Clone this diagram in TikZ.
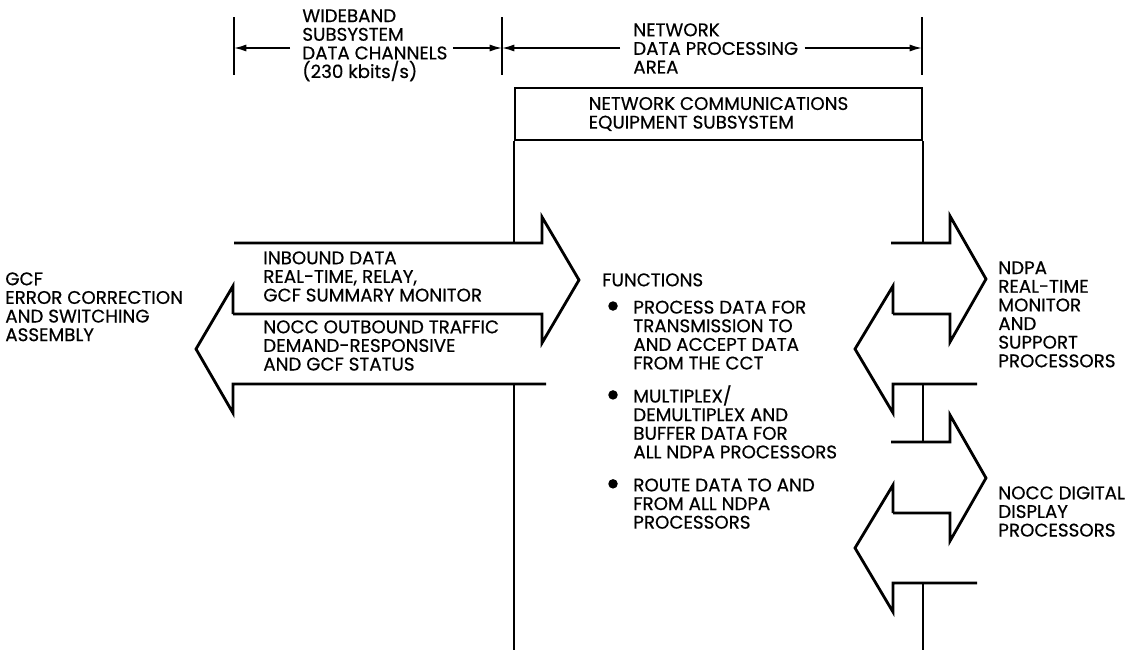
\documentclass[tikz,border=0pt]{standalone}
\usepackage{fontspec}
\setmainfont{Poppins}[FakeBold=0.5]
\usetikzlibrary{arrows.meta,positioning,calc}

\begin{document}
\begin{tikzpicture}[x=0.02cm,y=-0.02cm,
  every node/.style={font=\fontsize{10.4}{10.6}\selectfont,inner sep=0pt},
  lbl/.style={anchor=north west,align=left},
  fat/.style={line width=1.6pt,line join=miter},
  vline/.style={line width=1.3pt},
  tick/.style={line width=1pt},
  dim/.style={line width=0.9pt,-{Latex[length=7pt,width=4pt]}},
  box/.style={draw,line width=1.2pt,minimum width=8.14cm,minimum height=1.04cm,align=left},
  dot/.style={circle,fill,minimum size=0.19cm}]
  \useasboundingbox (0,0) rectangle (1135,650);

  % dimension lines at the top
  \coordinate (tL) at (234,48);
  \coordinate (tM) at (502,48);
  \coordinate (tR) at (922,48);
  \foreach \t in {tL,tM,tR}
    \draw[tick] ($(\t)+(0,-31)$) -- ($(\t)+(0,27)$);
  \node[lbl] (wide) at (302,9) {WIDEBAND\\SUBSYSTEM\\DATA CHANNELS\\(230 kbits/s)};
  \node[lbl] (area) at (633,23) {NETWORK\\DATA PROCESSING\\AREA};
  \draw[dim] ($(wide.west |- tL)+(-12,0)$) -- (tL);
  \draw[dim] ($(wide.east |- tM)+(5,0)$) -- (tM);
  \draw[dim] ($(area.west |- tM)+(-13,0)$) -- (tM);
  \draw[dim] ($(area.east |- tR)+(6,0)$) -- (tR);

  \node[box] (nces) at (718.5,114) {NETWORK COMMUNICATIONS\\EQUIPMENT SUBSYSTEM};

  % GCF side: inbound and outbound arrows
  \coordinate (inTop) at (234,243);
  \coordinate (outBot) at (233,384);
  \coordinate (floor) at (0,650);
  \draw[fat] (inTop) -- (542,243) -- (542,217) -- (579,280) -- (542,343) -- (542,314) -- (233,314);
  \draw[fat] (546,384) -- (outBot) -- (233,413) -- (196,349) -- (233,286) -- (233,314);
  \draw[vline] (nces.south west) -- (nces.south west |- inTop);
  \draw[vline] (nces.south west |- outBot) -- (nces.south west |- floor);

  % NDPA side: two pairs of arrows
  \foreach \dy in {0,199} {
    \draw[fat,shift={(0,\dy)}] (891,243) -- (950,243) -- (950,216) -- (986,279) -- (950,342) -- (950,314) -- (893,314);
    \draw[fat,shift={(0,\dy)}] (977,384) -- (893,384) -- (893,413) -- (855,349) -- (893,286) -- (893,314);
  }
  \draw[vline] (nces.south east) -- (nces.south east |- inTop);
  \draw[vline] (nces.south east |- outBot) -- ($(nces.south east |- inTop)+(0,199)$);
  \draw[vline] ($(nces.south east |- outBot)+(0,199)$) -- (nces.south east |- floor);

  \node[lbl] (gcf) at (5,272) {GCF\\ERROR CORRECTION\\AND SWITCHING\\ASSEMBLY};
  \node[lbl] (inb) at (263,251) {INBOUND DATA\\REAL-TIME, RELAY,\\GCF SUMMARY MONITOR};
  \node[lbl] (outb) at (263,320) {NOCC OUTBOUND TRAFFIC\\DEMAND-RESPONSIVE\\AND GCF STATUS};

  \node[lbl] (fn) at (602,273) {FUNCTIONS};
  \node[lbl] (it1) at (633,296) {\vphantom{/}PROCESS DATA FOR\\TRANSMISSION TO\\AND ACCEPT DATA\\FROM THE CCT};
  \node[lbl,below=0.3cm of it1.south west,anchor=north west] (it2) {\vphantom{/}MULTIPLEX/\\DEMULTIPLEX AND\\BUFFER DATA FOR\\ALL NDPA PROCESSORS};
  \node[lbl,below=0.3cm of it2.south west,anchor=north west] (it3) {\vphantom{/}ROUTE DATA TO AND\\FROM ALL NDPA\\PROCESSORS};
  \foreach \it in {it1,it2,it3}
    \node[dot] at ($(\it.north west)+(-20,10)$) {};

  \node[lbl] (ndpa) at (998,261) {NDPA\\REAL-TIME\\MONITOR\\AND\\SUPPORT\\PROCESSORS};
  \node[lbl] (nocc) at (998,486) {NOCC DIGITAL\\DISPLAY\\PROCESSORS};
\end{tikzpicture}
\end{document}
